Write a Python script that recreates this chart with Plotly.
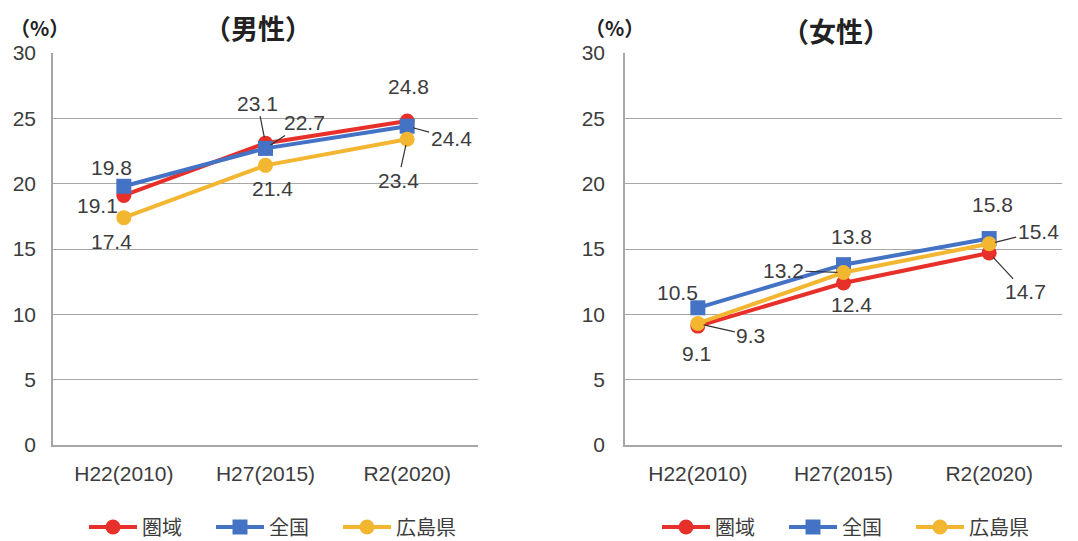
import plotly.graph_objects as go

categories = ["H22(2010)", "H27(2015)", "R2(2020)"]
series_names = ["圏域", "全国", "広島県"]

male_region = [19.1, 23.1, 24.8]
male_japan = [19.8, 22.7, 24.4]
male_hiroshima = [17.4, 21.4, 23.4]

female_region = [9.1, 12.4, 14.7]
female_japan = [10.5, 13.8, 15.8]
female_hiroshima = [9.3, 13.2, 15.4]

y_ticks = [0, 5, 10, 15, 20, 25, 30]
titles = ["（男性）", "（女性）"]
unit_label = "（%）"

# styles
colors = ["#E8302A", "#4472C4", "#F2B631"]
symbols = ["circle", "square", "circle"]
CJK = "Noto Sans CJK JP"
NUM = "Liberation Sans, Arial, Noto Sans CJK JP"
TXT = "#3C3C3C"

# page body has an 8px margin: size figure to fit the window and map page px -> paper
OFF = 8
W, H = 1078 - OFF, 541 - OFF


def px(xp):
    return (xp - OFF) / W


def py(yp):
    return 1 - (yp - OFF) / H


# label offsets in px (dx, dy down positive, leader line?)
male_offsets = [
    [(-26, 10, False), (-8, -40, True), (1, -34, False)],
    [(-12, -19, False), (39, -26, True), (44, 12, True)],
    [(-12, 24, False), (7, 23, False), (-9, 41, True)],
]
female_offsets = [
    [(-1, 27, False), (8, 22, False), (36, 39, True)],
    [(-20, -15, False), (8, -28, False), (3, -34, False)],
    [(53, 12, True), (-60, -2, True), (49, -12, True)],
]

fig = go.Figure()

panels = [
    ([male_region, male_japan, male_hiroshima], "x", "y", "legend", male_offsets),
    ([female_region, female_japan, female_hiroshima], "x2", "y2", "legend2", female_offsets),
]

annotations = []
for vals_list, xa, ya, lg, offs in panels:
    for i, vals in enumerate(vals_list):
        fig.add_trace(go.Scatter(
            x=categories, y=vals, name=series_names[i], mode="lines+markers",
            line=dict(color=colors[i], width=4),
            marker=dict(symbol=symbols[i], size=15, color=colors[i]),
            xaxis=xa, yaxis=ya, legend=lg, cliponaxis=False,
        ))
        for j, v in enumerate(vals):
            dx, dy, line = offs[i][j]
            a = dict(x=categories[j], y=v, xref=xa, yref=ya, text=f"{v:.1f}",
                     font=dict(family=NUM, size=21, color=TXT))
            if line:
                a.update(showarrow=True, ax=dx, ay=dy, arrowhead=0, arrowwidth=1.2,
                         arrowcolor="#333333", standoff=6, startstandoff=0)
            else:
                a.update(showarrow=False, xshift=dx, yshift=-dy)
            annotations.append(a)

# titles and units
annotations += [
    dict(text="<b>" + titles[0] + "</b>", x=px(258), y=py(27), xref="paper", yref="paper",
         showarrow=False, font=dict(family=CJK, size=27, color="#222222"), xanchor="center", yanchor="middle"),
    dict(text="<b>" + titles[1] + "</b>", x=px(836), y=py(30), xref="paper", yref="paper",
         showarrow=False, font=dict(family=CJK, size=27, color="#222222"), xanchor="center", yanchor="middle"),
    dict(text="<b>" + unit_label + "</b>", x=px(39), y=py(27), xref="paper", yref="paper",
         showarrow=False, font=dict(family=CJK, size=20, color="#222222"), xanchor="center", yanchor="middle",
         borderpad=0),
    dict(text="<b>" + unit_label + "</b>", x=px(614), y=py(28), xref="paper", yref="paper",
         showarrow=False, font=dict(family=CJK, size=20, color="#222222"), xanchor="center", yanchor="middle",
         borderpad=0),
]

axis_common = dict(
    type="category", range=[-0.5, 2.5], showgrid=False, showline=True, automargin=False,
    linecolor="#A6A6A6", linewidth=1.5, ticks="", ticklabelstandoff=9,
    tickfont=dict(family=NUM, size=21, color=TXT), fixedrange=True,
)
yaxis_common = dict(
    range=[0, 30], tickvals=y_ticks, showgrid=True, gridcolor="#A6A6A6", gridwidth=1.3,
    showline=True, linecolor="#A6A6A6", linewidth=1.5, zeroline=False, ticks="", automargin=False,
    tickfont=dict(family=NUM, size=21, color=TXT), fixedrange=True,
)

legend_common = dict(
    orientation="h", xanchor="left", yanchor="middle", itemwidth=48,
    font=dict(family=CJK, size=20, color=TXT), entrywidth=64, bgcolor="rgba(0,0,0,0)",
)

fig.update_layout(
    template="none",
    width=W, height=H,
    margin=dict(l=0, r=0, t=0, b=0, autoexpand=False),
    paper_bgcolor="white", plot_bgcolor="white",
    xaxis=dict(domain=[px(53), px(478)], anchor="y", **axis_common),
    yaxis=dict(domain=[py(445), py(53)], anchor="x", ticklabelstandoff=11, **yaxis_common),
    xaxis2=dict(domain=[px(625), px(1062)], anchor="y2", **axis_common),
    yaxis2=dict(domain=[py(445), py(53)], anchor="x2", ticklabelstandoff=14, **yaxis_common),
    legend=dict(x=px(84), y=py(527), **legend_common),
    legend2=dict(x=px(657), y=py(527), **legend_common),
    annotations=annotations,
    showlegend=True,
)

fig.write_html("out.html")
